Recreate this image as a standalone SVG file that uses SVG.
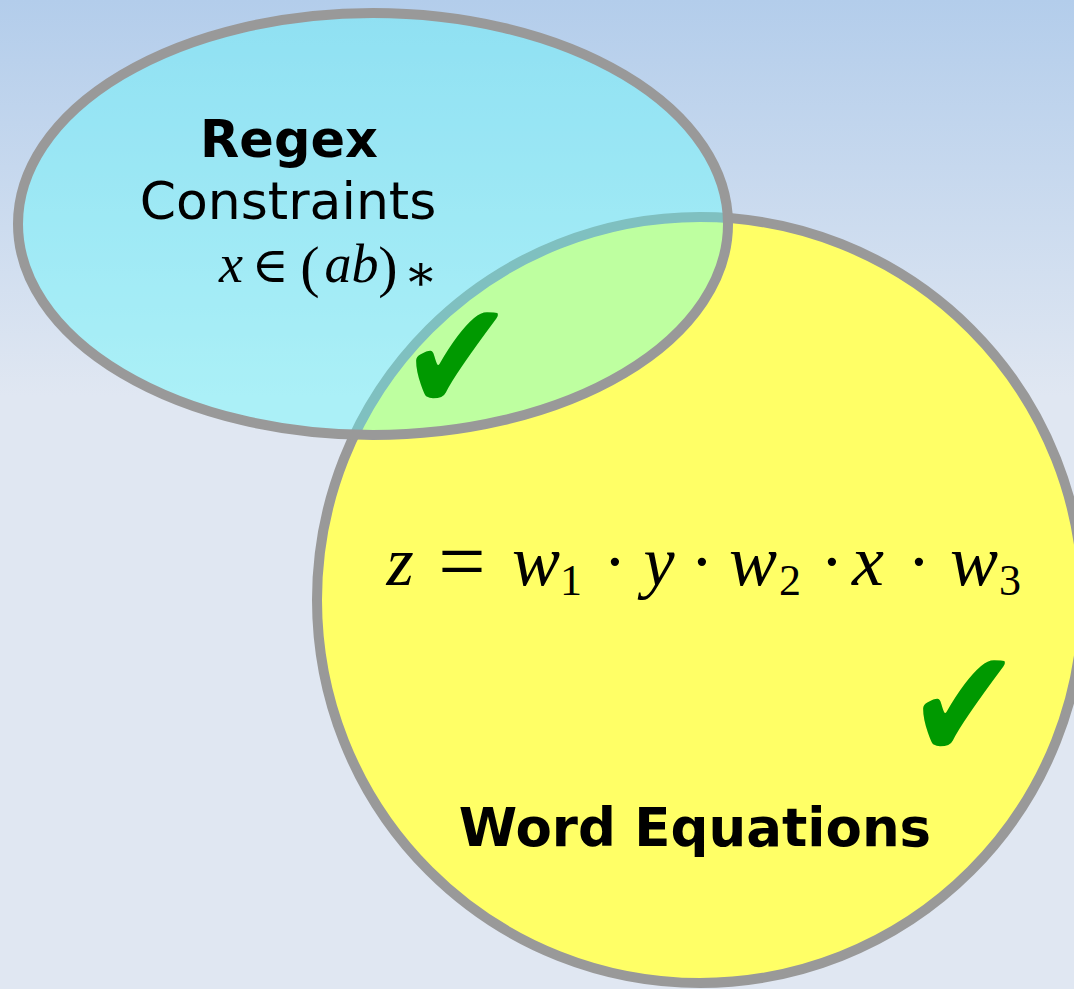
<svg xmlns="http://www.w3.org/2000/svg" width="1074" height="989" viewBox="0 0 1074 989">
<defs>
<linearGradient id="bg" x1="0" y1="0" x2="0" y2="1">
<stop offset="0" stop-color="#b3cdeb"/>
<stop offset="0.4" stop-color="#e0e7f2"/>
<stop offset="1" stop-color="#e0e7f2"/>
</linearGradient>
</defs>
<style>
.set{stroke:#999999;stroke-width:10}
.lbl{font-family:"DejaVu Sans",sans-serif;fill:#000}
.b{font-weight:bold}
.m{font-family:"Liberation Serif","DejaVu Serif",serif;fill:#000;text-anchor:middle}
.i{font-style:italic}
.chk{font-family:"DejaVu Sans",sans-serif;fill:#009900;text-anchor:middle}
</style>
<rect x="0" y="0" width="1074" height="989" fill="url(#bg)"/>
<g id="word-equations">
<circle class="set" cx="700" cy="600" r="383" fill="#ffff66"/>
</g>
<g id="regex-constraints">
<ellipse class="set" cx="373" cy="224" rx="355" ry="211" fill="rgb(85,255,255)" fill-opacity="0.38"/>
</g>
<g id="connectors"></g>
<g id="labels">
<text class="lbl b" x="289" y="157" font-size="51" text-anchor="middle">Regex</text>
<text class="lbl" x="288" y="219" font-size="52" text-anchor="middle">Constraints</text>
<text class="m" font-size="54"><tspan class="i" x="231" y="282">x</tspan><tspan x="270" y="282" font-size="50">∈</tspan><tspan x="310" y="286" font-size="58">(</tspan><tspan class="i" x="338" y="282">a</tspan><tspan class="i" x="365" y="282">b</tspan><tspan x="388" y="286" font-size="58">)</tspan><tspan x="421" y="290" font-size="50">∗</tspan></text>
<text class="m" font-size="70"><tspan class="i" x="400" y="585">z</tspan><tspan x="462" y="590" font-size="84">=</tspan><tspan class="i" x="536" y="585" font-size="72">w</tspan><tspan x="571" y="595" font-size="44">1</tspan><tspan x="615" y="585">·</tspan><tspan class="i" x="659" y="585">y</tspan><tspan x="702" y="585">·</tspan><tspan class="i" x="753" y="585" font-size="72">w</tspan><tspan x="790" y="595" font-size="44">2</tspan><tspan x="832" y="585">·</tspan><tspan class="i" x="868" y="585" font-size="72">x</tspan><tspan x="919" y="585">·</tspan><tspan class="i" x="974" y="585" font-size="72">w</tspan><tspan x="1010" y="595" font-size="44">3</tspan></text>
<text class="lbl b" x="695" y="846" font-size="53" text-anchor="middle">Word Equations</text>
<text class="chk" transform="translate(457,412) scale(1,1.17)" x="0" y="0" font-size="135">✔</text>
<text class="chk" transform="translate(964,760) scale(1,1.17)" x="0" y="0" font-size="135">✔</text>
</g>
</svg>
